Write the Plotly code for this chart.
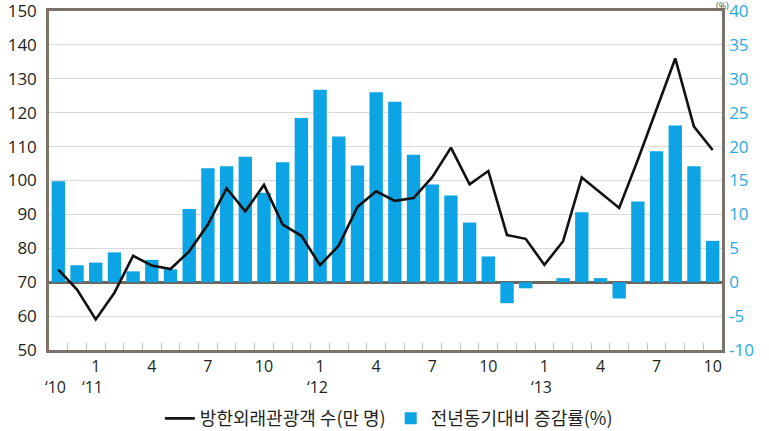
import plotly.graph_objects as go

# ---- data ----
months = ["2010-11", "2010-12",
          "2011-01", "2011-02", "2011-03", "2011-04", "2011-05", "2011-06",
          "2011-07", "2011-08", "2011-09", "2011-10", "2011-11", "2011-12",
          "2012-01", "2012-02", "2012-03", "2012-04", "2012-05", "2012-06",
          "2012-07", "2012-08", "2012-09", "2012-10", "2012-11", "2012-12",
          "2013-01", "2013-02", "2013-03", "2013-04", "2013-05", "2013-06",
          "2013-07", "2013-08", "2013-09", "2013-10"]

# 방한외래관광객 수 (만 명)
visitors = [73.7, 67.8, 59.0, 66.9, 77.8, 74.9, 73.9, 79.1, 87.0, 97.7, 90.9, 98.7,
            87.0, 83.7, 75.0, 80.8, 92.2, 96.8, 94.0, 94.8, 101.0, 109.7, 98.9, 102.8,
            83.9, 82.8, 75.1, 82.1, 100.9, 96.5, 91.9, 106.1, 120.8, 136.0, 115.9, 109.0]

# 전년동기대비 증감률 (%)
growth = [14.9, 2.5, 2.9, 4.4, 1.6, 3.3, 1.9, 10.8, 16.8, 17.1, 18.5, 13.2,
          17.7, 24.2, 28.4, 21.5, 17.2, 28.0, 26.6, 18.8, 14.4, 12.8, 8.8, 3.8,
          -3.1, -0.9, 0.0, 0.6, 10.3, 0.6, -2.4, 11.9, 19.3, 23.1, 17.1, 6.1]

month_tick_numbers = [1, 4, 7, 10]
year_labels = {"2010-11": "‘10", "2011-01": "‘11", "2012-01": "‘12", "2013-01": "‘13"}

left_ticks = list(range(50, 151, 10))
right_ticks = list(range(-10, 41, 5))

series_names = ["방한외래관광객 수(만 명)", "전년동기대비 증감률(%)"]

# ---- styling ----
BLUE = "#0ca4e4"
BLUE_TXT = "#2aa9df"
FRAME = "#7b7269"
ZERO = "#6e655c"
GRID = "#d9d9d9"
TXT = "#231f20"
NUM_FONT = "Open Sans"
KR_FONT = "Noto Sans CJK KR"

tick_text = [str(int(m[5:])) if int(m[5:]) in month_tick_numbers else "" for m in months]

fig = go.Figure()

fig.add_trace(go.Scatter(
    x=months, y=visitors, name=series_names[0], mode="lines",
    line=dict(color="#111111", width=2.6), xaxis="x", yaxis="y2",
))
fig.add_trace(go.Bar(
    x=months, y=growth, name=series_names[1], marker=dict(color=BLUE, line=dict(width=0)),
    xaxis="x", yaxis="y",
))

annotations = []
for m, lab in year_labels.items():
    annotations.append(dict(
        x=m, y=-0.108, xref="x", yref="paper", text=lab, showarrow=False,
        xanchor="center", yanchor="middle", xshift=-3,
        font=dict(family=NUM_FONT, size=16, color=TXT),
    ))
annotations.append(dict(
    x=1.0, y=1.0, xref="paper", yref="paper", text="(%)", showarrow=False,
    xanchor="center", yanchor="bottom", yshift=-3,
    font=dict(family=NUM_FONT, size=9, color="#555555"),
))

fig.update_layout(
    width=769, height=431,
    margin=dict(l=49, r=47, t=11, b=81, autoexpand=False),
    paper_bgcolor="white", plot_bgcolor="white",
    bargap=0.285,
    showlegend=True,
    legend=dict(orientation="h", x=0.505, xanchor="center", y=-0.148, yanchor="top",
                font=dict(family=KR_FONT, size=18, color=TXT),
                itemwidth=30, tracegroupgap=0, bgcolor="rgba(0,0,0,0)"),
    xaxis=dict(
        type="category", range=[-0.5, len(months) - 0.5], automargin=False,
        tickmode="array", tickvals=months, ticktext=tick_text, tickangle=0,
        tickson="boundaries", ticks="inside", ticklen=7, tickwidth=1, tickcolor="#c4c4c4",
        tickfont=dict(family=NUM_FONT, size=16, color=TXT),
        showline=True, linecolor=FRAME, linewidth=2.5, mirror=True,
        showgrid=False, zeroline=False,
    ),
    yaxis=dict(
        side="right", range=[-10, 40], automargin=False,
        tickmode="array", tickvals=right_ticks, ticktext=[str(v) for v in right_ticks],
        tickfont=dict(family=NUM_FONT, size=17, color=BLUE_TXT),
        ticks="", ticklabelstandoff=1, ticklabeloverflow="allow",
        showgrid=True, gridcolor=GRID, gridwidth=1,
        zeroline=True, zerolinecolor=ZERO, zerolinewidth=3,
        showline=True, linecolor=FRAME, linewidth=2.5,
    ),
    yaxis2=dict(
        side="left", overlaying="y", range=[50, 150], automargin=False,
        tickmode="array", tickvals=left_ticks,
        tickfont=dict(family=NUM_FONT, size=17, color=TXT),
        ticks="", ticklabelstandoff=6, ticklabeloverflow="allow",
        showgrid=False, zeroline=False,
        showline=True, linecolor=FRAME, linewidth=2.5,
    ),
    annotations=annotations,
)

fig.write_html("out.html", config={"displayModeBar": False},
               post_script="document.body.style.margin='0';")
